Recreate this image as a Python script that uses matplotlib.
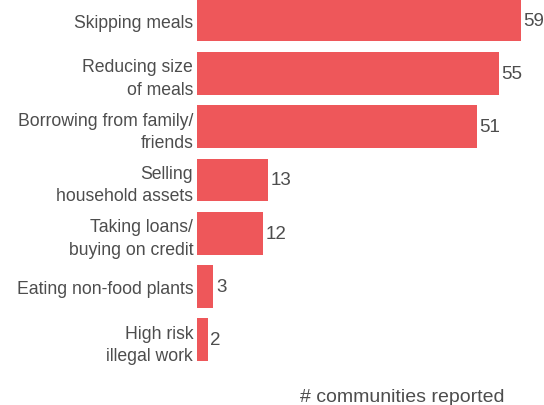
import matplotlib.pyplot as plt

categories = ["Skipping meals", "Reducing size\nof meals", "Borrowing from family/\nfriends",
              "Selling\nhousehold assets", "Taking loans/\nbuying on credit",
              "Eating non-food plants", "High risk\nillegal work"]
counts = [59, 55, 51, 13, 12, 3, 2]

plt.rcParams['font.family'] = ['Liberation Sans', 'DejaVu Sans']
txt = '#4d4d4d'
bar_color = '#ee575a'

fig = plt.figure(figsize=(5.44, 4.06), dpi=100)
ax = fig.add_axes([196.7 / 544, 0, 1 - 196.7 / 544, 1])

pos = list(range(len(categories)))
bars = ax.barh(pos, counts, height=0.8, color=bar_color)
ax.set_xlim(0, 347.3 / 5.49)
ax.set_ylim(-0.394 + 406 / 53.3, -0.394)

ax.set_yticks(pos)
ax.set_yticklabels(categories, fontsize=12.7, color=txt, linespacing=1.42)
ax.tick_params(axis='y', length=0, pad=2.5)
ax.set_xticks([])
for s in ax.spines.values():
    s.set_visible(False)

for b, v in zip(bars, counts):
    ax.text(b.get_width() + 0.5, b.get_y() + b.get_height() / 2, str(v),
            va='center', ha='left', fontsize=13.5, color=txt)

fig.text(300 / 544, 1 - 398 / 406, "# communities reported", fontsize=14,
         color=txt, ha='left', va='center')

fig.savefig("out.png", dpi=100)
